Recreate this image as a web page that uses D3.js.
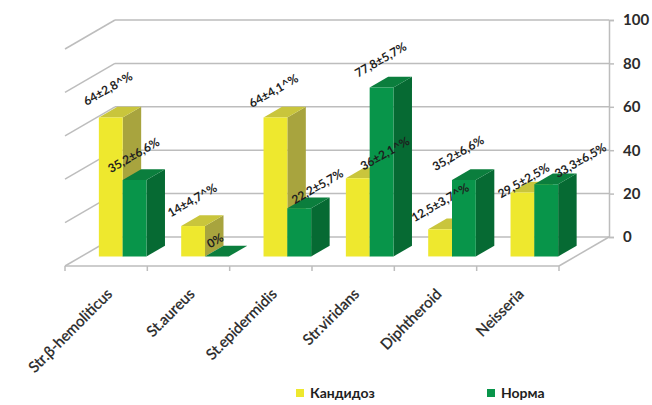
<!DOCTYPE html>
<html>
<head>
<meta charset="utf-8">
<script src="https://cdn.jsdelivr.net/npm/d3@7"></script>
<style>
  html, body { margin: 0; padding: 0; background: #ffffff; }
  svg { display: block; }
</style>
</head>
<body>
<svg id="chart" width="652" height="405"></svg>
<script>
// ---------- DATA ----------
const categories = ["Str.β-hemoliticus", "St.aureus", "St.epidermidis", "Str.viridans", "Diphtheroid", "Neisseria"];
const seriesNames = ["Кандидоз", "Норма"];
const candidozValues = [64, 14, 64, 36, 12.5, 29.5];
const normaValues = [35.2, 0, 22.2, 77.8, 35.2, 33.3];
const candidozLabels = ["64±2,8^%", "14±4,7^%", "64±4,1^%", "36±2,1^%", "12,5±3,7^%", "29,5±2,5%"];
const normaLabels = ["35,2±6,6%", "0%", "22,2±5,7%", "77,8±5,7%", "35,2±6,6%", "33,3±6,5%"];
const yTicks = [0, 20, 40, 60, 80, 100];

// ---------- LAYOUT ----------
const svg = d3.select("#chart");
const FONT = "Lato, 'Open Sans', sans-serif";
const depthVec = [-50, 29];            // back wall -> front edge of floor
const barFront = 0.67, barBack = 0.30;  // bar depth fractions (0 = back wall)
const colors = {
  "Кандидоз": { front: "#EEE82E", side: "#A8A43E", top: "#C9C53C" },
  "Норма":    { front: "#08954A", side: "#066A33", top: "#0B7E3D" }
};
const gridColor = "#BDBDBD";

const x = d3.scaleBand().domain(categories).range([115, 609]).paddingInner(0).paddingOuter(0);
const y = d3.scaleLinear().domain([0, 100]).range([237, 20]);
const xs = d3.scaleBand().domain(seriesNames).range([0, x.bandwidth()]).paddingInner(0).paddingOuter(0.729);
const proj = (px, py, d) => [px + d * depthVec[0], py + d * depthVec[1]];

const g = svg.append("g");

// back wall gridlines + left wall diagonals
yTicks.forEach(t => {
  const yy = y(t);
  g.append("line").attr("x1", x.range()[0]).attr("x2", x.range()[1]).attr("y1", yy).attr("y2", yy)
    .attr("stroke", gridColor).attr("stroke-width", 1.5);
  const f = proj(x.range()[0], yy, 1);
  g.append("line").attr("x1", x.range()[0]).attr("y1", yy).attr("x2", f[0]).attr("y2", f[1])
    .attr("stroke", gridColor).attr("stroke-width", 1.5);
});

// floor front edge + right floor edge
const fl = proj(x.range()[0], y(0), 1), fr = proj(x.range()[1], y(0), 1);
g.append("line").attr("x1", fl[0]).attr("y1", fl[1]).attr("x2", fr[0]).attr("y2", fr[1])
  .attr("stroke", gridColor).attr("stroke-width", 1.5);
g.append("line").attr("x1", fr[0]).attr("y1", fr[1]).attr("x2", x.range()[1]).attr("y2", y(0))
  .attr("stroke", gridColor).attr("stroke-width", 1.5);

// category tick marks on front edge (between categories)
const bounds = d3.range(categories.length + 1).map(i => x.range()[0] + i * x.step());
bounds.forEach(bx => {
  const p = proj(bx, y(0), 1);
  g.append("line").attr("x1", p[0]).attr("y1", p[1]).attr("x2", p[0]).attr("y2", p[1] + 5)
    .attr("stroke", gridColor).attr("stroke-width", 1.5);
});

// right value axis
const axis = d3.axisRight(y).tickValues(yTicks).tickSize(5).tickPadding(9).tickFormat(d3.format("d"));
const ax = svg.append("g").attr("transform", `translate(${x.range()[1]},0)`).call(axis);
ax.select(".domain").attr("stroke", gridColor).attr("stroke-width", 1.5);
ax.selectAll(".tick line").attr("stroke", gridColor).attr("stroke-width", 1.5);
ax.selectAll(".tick text").attr("font-family", FONT).attr("font-size", 15).attr("font-weight", "bold").attr("fill", "#2b2b2b");

// ---------- BARS ----------
const seriesValues = { "Кандидоз": candidozValues, "Норма": normaValues };
const seriesLabels = { "Кандидоз": candidozLabels, "Норма": normaLabels };
const poly = pts => pts.map(p => p.join(",")).join(" ");
const bars = g.append("g");
const labelData = [];

categories.forEach((c, i) => {
  seriesNames.forEach(s => {
    const v = seriesValues[s][i];
    const x0 = x(c) + xs(s), x1 = x0 + xs.bandwidth();
    const col = colors[s];
    const fbl = proj(x0, y(0), barFront), fbr = proj(x1, y(0), barFront);
    const ftl = proj(x0, y(v), barFront), ftr = proj(x1, y(v), barFront);
    const btl = proj(x0, y(v), barBack), btr = proj(x1, y(v), barBack), bbr = proj(x1, y(0), barBack);
    bars.append("polygon").attr("points", poly([fbr, ftr, btr, bbr])).attr("fill", col.side);
    bars.append("polygon").attr("points", poly([ftl, ftr, btr, btl])).attr("fill", col.top);
    if (v > 0) bars.append("polygon").attr("points", poly([fbl, fbr, ftr, ftl])).attr("fill", col.front);
    labelData.push({ s, i, text: seriesLabels[s][i], cx: (ftl[0] + ftr[0]) / 2, top: ftl[1] });
  });
});

// ---------- VALUE LABELS ----------
const nudge = {
  "Кандидоз": [[-3, -3], [-1, 0], [-2, -1], [27, 1], [0, -1], [1, 14]],
  "Норма":    [[-1, 1], [-2, 10], [18, 4], [-1, -2], [-6, -1], [34, 2]]
};
svg.append("g").selectAll("text").data(labelData).join("text")
  .attr("transform", d => {
    const n = nudge[d.s][d.i];
    return `translate(${d.cx + n[0]},${d.top - 26 + n[1]}) rotate(-30)`;
  })
  .attr("text-anchor", "middle").attr("dominant-baseline", "central")
  .attr("font-family", FONT).attr("font-size", 12).attr("font-weight", "bold").attr("fill", "#1e1e1e")
  .text(d => d.text);

// ---------- CATEGORY LABELS ----------
svg.append("g").selectAll("text").data(categories).join("text")
  .attr("transform", c => {
    const p = proj(x(c) + x.bandwidth() / 2, y(0), 1);
    return `translate(${p[0] + 7},${p[1] + 29}) rotate(-45)`;
  })
  .attr("text-anchor", "end")
  .attr("font-family", FONT).attr("font-size", 15).attr("fill", "#262626")
  .attr("stroke", "#262626").attr("stroke-width", 0.3)
  .text(c => c);

// ---------- LEGEND ----------
const legendX = [296, 487];
const legend = svg.append("g");
seriesNames.forEach((s, k) => {
  legend.append("rect").attr("x", legendX[k]).attr("y", 389).attr("width", 8).attr("height", 8).attr("fill", colors[s].front);
  legend.append("text").attr("x", legendX[k] + 14).attr("y", 398)
    .attr("font-family", FONT).attr("font-size", 14).attr("font-weight", "bold").attr("fill", "#1e1e1e")
    .text(s);
});
</script>
</body>
</html>
